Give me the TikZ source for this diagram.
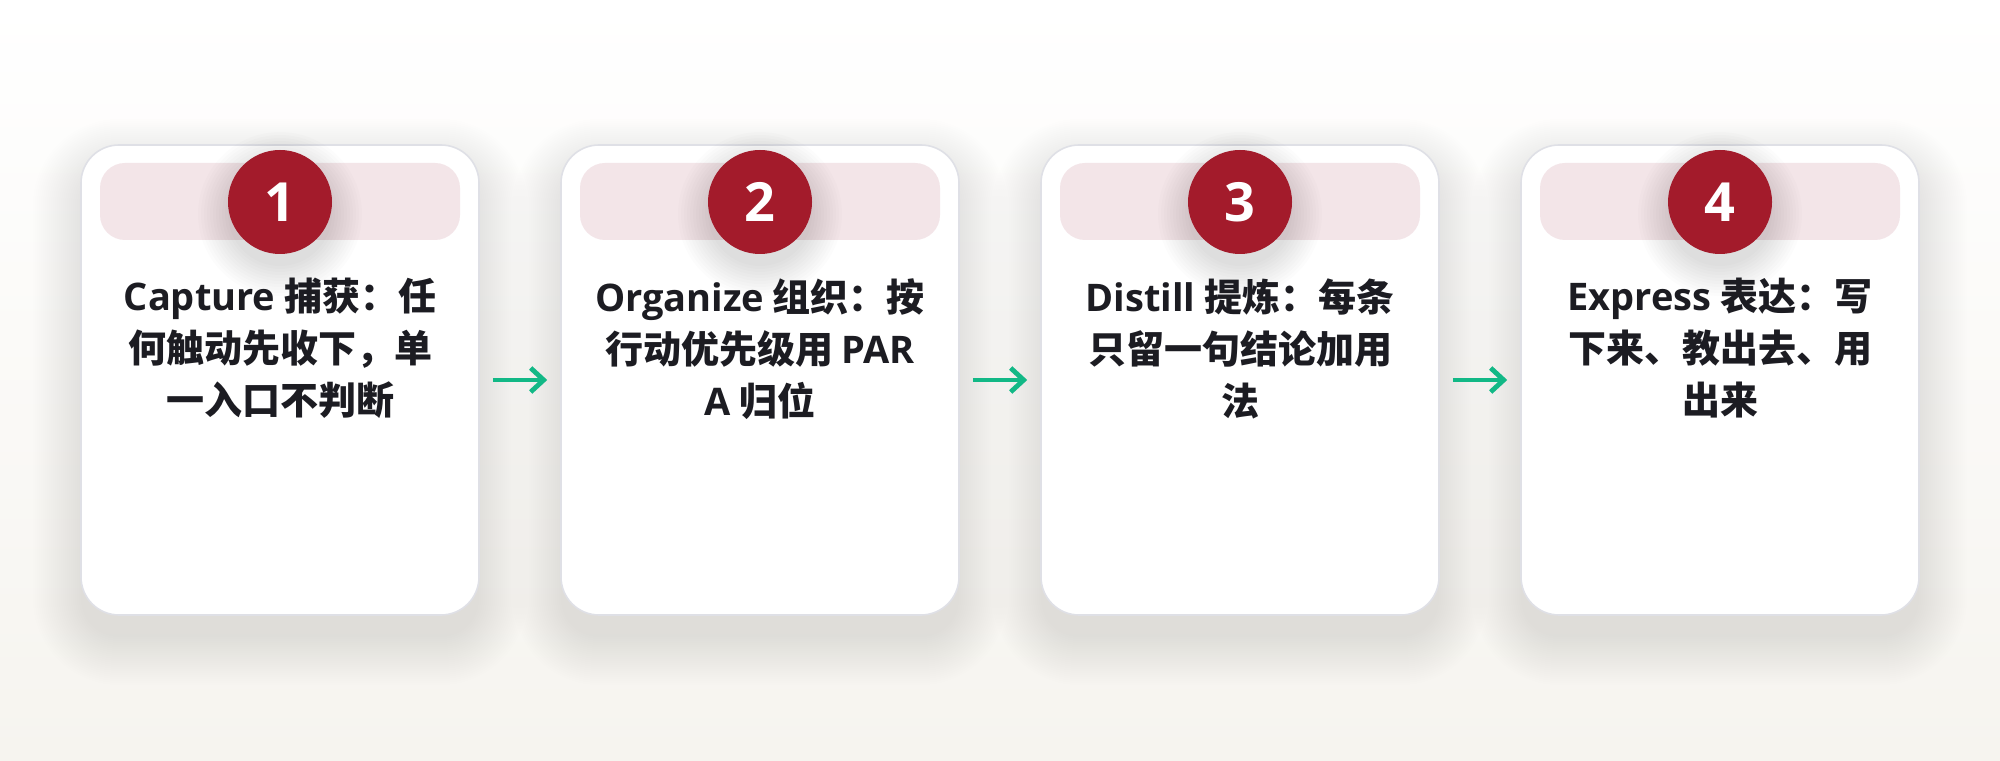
\documentclass[tikz,border=0pt]{standalone}
\usepackage{fontspec}
\setmainfont{Noto Sans CJK SC}
\newfontfamily\latinfont{Open Sans}
\usetikzlibrary{arrows.meta}
\definecolor{cardline}{HTML}{DFE0E6}
\definecolor{bandpink}{HTML}{F3E5E8}
\definecolor{numred}{HTML}{A31B2B}
\definecolor{ink}{HTML}{1C1C22}
\definecolor{flowgreen}{HTML}{12B886}
\definecolor{paper}{HTML}{F6F4EF}
\begin{document}
\begin{tikzpicture}[x=0.5pt,y=0.5pt,
  card/.style={draw=cardline,line width=0.8pt,fill=white,rounded corners=19pt,inner sep=0pt,
    minimum width=199pt,minimum height=235pt},
  band/.style={fill=bandpink,rounded corners=12.5pt,inner sep=0pt,minimum width=180pt,minimum height=38.5pt},
  num/.style={circle,fill=numred,text=white,inner sep=0pt,minimum size=52pt,
    font=\fontsize{27}{27}\selectfont\latinfont\bfseries},
  cardtext/.style={anchor=north,align=center,inner sep=0pt,text=ink,font=\fontsize{19}{26}\selectfont\bfseries},
  flow/.style={draw=flowgreen,line width=2.4pt,-{Straight Barb[length=6.5pt,width=12pt]},shorten <=6.5pt,shorten >=6.5pt}]

\useasboundingbox (0,0) rectangle (2000,760);
\shade[top color=white,bottom color=paper] (0,0) rectangle (2000,760);

% soft shadows under the cards
\foreach \cx in {280,760,1240,1720}
  \foreach \k in {0,2,...,48}
    \fill[black,opacity=0.0055,rounded corners={19pt+0.5pt*\k}]
      (\cx-199-\k,145-22-\k) rectangle (\cx+199+\k,615-22+\k);

\node[card] (C1) at (280,380) {};
\node[card] (C2) at (760,380) {};
\node[card] (C3) at (1240,380) {};
\node[card] (C4) at (1720,380) {};

\node[band] (B1) at (280,558.5) {};
\node[band] (B2) at (760,558.5) {};
\node[band] (B3) at (1240,558.5) {};
\node[band] (B4) at (1720,558.5) {};

% glow under the numbers
\foreach \cx in {280,760,1240,1720}
  \foreach \k in {0,3,...,30}
    \fill[black,opacity=0.013] (\cx,546) circle (52+\k);

\node[num] (N1) at (280,558) {1};
\node[cardtext] (T1) at (280,482) {{\latinfont Capture} 捕获：任\\何触动先收下，单\\一入口不判断};

\node[num] (N2) at (760,558) {2};
\node[cardtext] (T2) at (760,482) {{\latinfont Organize} 组织：按\\行动优先级用 {\latinfont PAR}\\{\latinfont A} 归位};

\node[num] (N3) at (1240,558) {3};
\node[cardtext] (T3) at (1240,482) {{\latinfont Distill} 提炼：每条\\只留一句结论加用\\法};

\node[num] (N4) at (1720,558) {4};
\node[cardtext] (T4) at (1720,482) {{\latinfont Express} 表达：写\\下来、教出去、用\\出来};

\draw[flow] (C1) -- (C2);
\draw[flow] (C2) -- (C3);
\draw[flow] (C3) -- (C4);

\end{tikzpicture}
\end{document}
